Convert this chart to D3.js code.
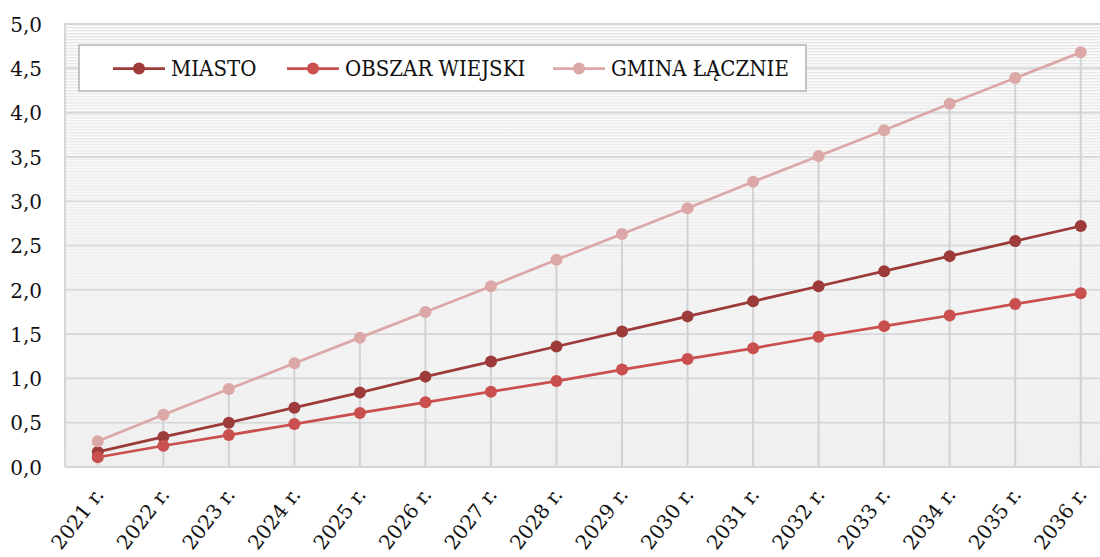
<!DOCTYPE html>
<html>
<head>
<meta charset="utf-8">
<script src="https://cdn.jsdelivr.net/npm/d3@7"></script>
<style>
  html, body { margin: 0; padding: 0; background: #ffffff; }
  svg { display: block; }
  .tick-label { font-family: "DejaVu Serif", serif; font-size: 20px; fill: #111; }
  .x-label { font-family: "DejaVu Serif", serif; font-size: 20px; fill: #111; }
  .legend-label { font-family: "DejaVu Serif Condensed", "DejaVu Serif", serif; font-stretch: condensed; font-size: 22px; fill: #111; }
</style>
</head>
<body>
<svg id="chart" width="1100" height="557"></svg>
<script>
// Years on the category axis
const years = ["2021", "2022", "2023", "2024", "2025", "2026", "2027", "2028",
               "2029", "2030", "2031", "2032", "2033", "2034", "2035", "2036"];

// Series values
const miasto = [0.17, 0.34, 0.50, 0.67, 0.84, 1.02, 1.19, 1.36,
                1.53, 1.70, 1.87, 2.04, 2.21, 2.38, 2.55, 2.72];
const obszarWiejski = [0.11, 0.24, 0.36, 0.485, 0.61, 0.73, 0.85, 0.97,
                       1.10, 1.22, 1.34, 1.47, 1.59, 1.71, 1.84, 1.96];
const gminaLacznie = [0.29, 0.59, 0.88, 1.17, 1.46, 1.75, 2.04, 2.34,
                      2.63, 2.92, 3.22, 3.51, 3.80, 4.10, 4.39, 4.68];

// Value-axis ticks
const yTicks = [0, 0.5, 1, 1.5, 2, 2.5, 3, 3.5, 4, 4.5, 5];

const seriesNames = ["MIASTO", "OBSZAR WIEJSKI", "GMINA ŁĄCZNIE"];
const seriesColors = ["#9c3b39", "#c9504e", "#dca8a7"];

const series = [
  { name: seriesNames[0], values: miasto, color: seriesColors[0] },
  { name: seriesNames[1], values: obszarWiejski, color: seriesColors[1] },
  { name: seriesNames[2], values: gminaLacznie, color: seriesColors[2] }
];

const svg = d3.select("#chart");
const plot = { left: 65, right: 1113.5, top: 24, bottom: 467 };

const x = d3.scaleBand().domain(years).range([plot.left, plot.right]).padding(0);
const cx = d => x(d) + x.bandwidth() / 2;
const y = d3.scaleLinear().domain([0, 5]).range([plot.bottom, plot.top]);

const defs = svg.append("defs");

// Plot-area fill: light gradient with thin horizontal stripes fading downward
const bg = defs.append("linearGradient").attr("id", "bgGrad")
  .attr("x1", 0).attr("y1", 0).attr("x2", 0).attr("y2", 1);
bg.append("stop").attr("offset", "0%").attr("stop-color", "#fcfcfc");
bg.append("stop").attr("offset", "100%").attr("stop-color", "#efefef");

const stripe = defs.append("pattern").attr("id", "stripes")
  .attr("patternUnits", "userSpaceOnUse").attr("width", 8).attr("height", 3)
  .attr("y", plot.top);
stripe.append("rect").attr("x", 0).attr("y", 0).attr("width", 8).attr("height", 1.3)
  .attr("fill", "#e4e4e4");

const fade = defs.append("linearGradient").attr("id", "fadeGrad")
  .attr("x1", 0).attr("y1", 0).attr("x2", 0).attr("y2", 1);
fade.append("stop").attr("offset", "0%").attr("stop-color", "#fff").attr("stop-opacity", 1);
fade.append("stop").attr("offset", "75%").attr("stop-color", "#fff").attr("stop-opacity", 0);
const mask = defs.append("mask").attr("id", "fadeMask");
mask.append("rect")
  .attr("x", plot.left).attr("y", plot.top)
  .attr("width", plot.right - plot.left).attr("height", plot.bottom - plot.top)
  .attr("fill", "url(#fadeGrad)");

svg.append("rect")
  .attr("x", plot.left).attr("y", plot.top)
  .attr("width", plot.right - plot.left).attr("height", plot.bottom - plot.top)
  .attr("fill", "url(#bgGrad)");
svg.append("rect")
  .attr("x", plot.left).attr("y", plot.top)
  .attr("width", plot.right - plot.left).attr("height", plot.bottom - plot.top)
  .attr("fill", "url(#stripes)").attr("mask", "url(#fadeMask)");

// Horizontal gridlines
svg.append("g").selectAll("line").data(yTicks).join("line")
  .attr("x1", plot.left).attr("x2", plot.right)
  .attr("y1", d => y(d)).attr("y2", d => y(d))
  .attr("stroke", "#d6d6d6").attr("stroke-width", 1.6);

// Plot-area border (left and top edges)
svg.append("path")
  .attr("d", `M${plot.left},${plot.bottom} V${plot.top} H${plot.right}`)
  .attr("fill", "none").attr("stroke", "#d6d6d6").attr("stroke-width", 2);

// Drop lines from the top series down to the category axis
svg.append("g").selectAll("line").data(years).join("line")
  .attr("x1", d => cx(d)).attr("x2", d => cx(d))
  .attr("y1", (d, i) => y(gminaLacznie[i])).attr("y2", y(0))
  .attr("stroke", "#d2d2d2").attr("stroke-width", 2);

// Category axis line
svg.append("line")
  .attr("x1", plot.left).attr("x2", plot.right)
  .attr("y1", y(0)).attr("y2", y(0))
  .attr("stroke", "#d6d6d6").attr("stroke-width", 2);

// Y axis labels
const yAxis = d3.axisLeft(y).tickValues(yTicks).tickSize(0).tickPadding(0)
  .tickFormat(d => d3.format(".1f")(d).replace(".", ","));
const yg = svg.append("g").attr("transform", `translate(42,0)`).call(yAxis);
yg.select(".domain").remove();
yg.selectAll("text").attr("class", "tick-label").attr("dy", "0.36em")
  .attr("font-family", null).attr("font-size", null).attr("fill", null);

// X axis labels (rotated)
svg.append("g").selectAll("text").data(years).join("text")
  .attr("class", "x-label")
  .attr("text-anchor", "end")
  .attr("transform", d => `translate(${cx(d) + 7},${495}) rotate(-52)`)
  .text(d => d + " r.");

// Series lines and markers
const line = d3.line().x((v, i) => cx(years[i])).y(v => y(v));
series.forEach(s => {
  const g = svg.append("g");
  g.append("path").datum(s.values)
    .attr("d", line).attr("fill", "none")
    .attr("stroke", s.color).attr("stroke-width", 2.75);
  g.selectAll("circle").data(s.values).join("circle")
    .attr("cx", (v, i) => cx(years[i])).attr("cy", v => y(v))
    .attr("r", 6).attr("fill", s.color);
});

// Legend
const legend = svg.append("g");
legend.append("rect")
  .attr("x", 79).attr("y", 45).attr("width", 727).attr("height", 46)
  .attr("fill", "#ffffff").attr("stroke", "#c4c4c4").attr("stroke-width", 2);
const legendX = [113, 287, 553];
series.forEach((s, i) => {
  const g = legend.append("g").attr("transform", `translate(${legendX[i]},68.5)`);
  g.append("line").attr("x1", 0).attr("x2", 52).attr("y1", 0).attr("y2", 0)
    .attr("stroke", s.color).attr("stroke-width", 2.75);
  g.append("circle").attr("cx", 26).attr("cy", 0).attr("r", 6).attr("fill", s.color);
  g.append("text").attr("class", "legend-label")
    .attr("x", 58).attr("y", 0).attr("dy", "0.36em")
    .text(s.name);
});
</script>
</body>
</html>
